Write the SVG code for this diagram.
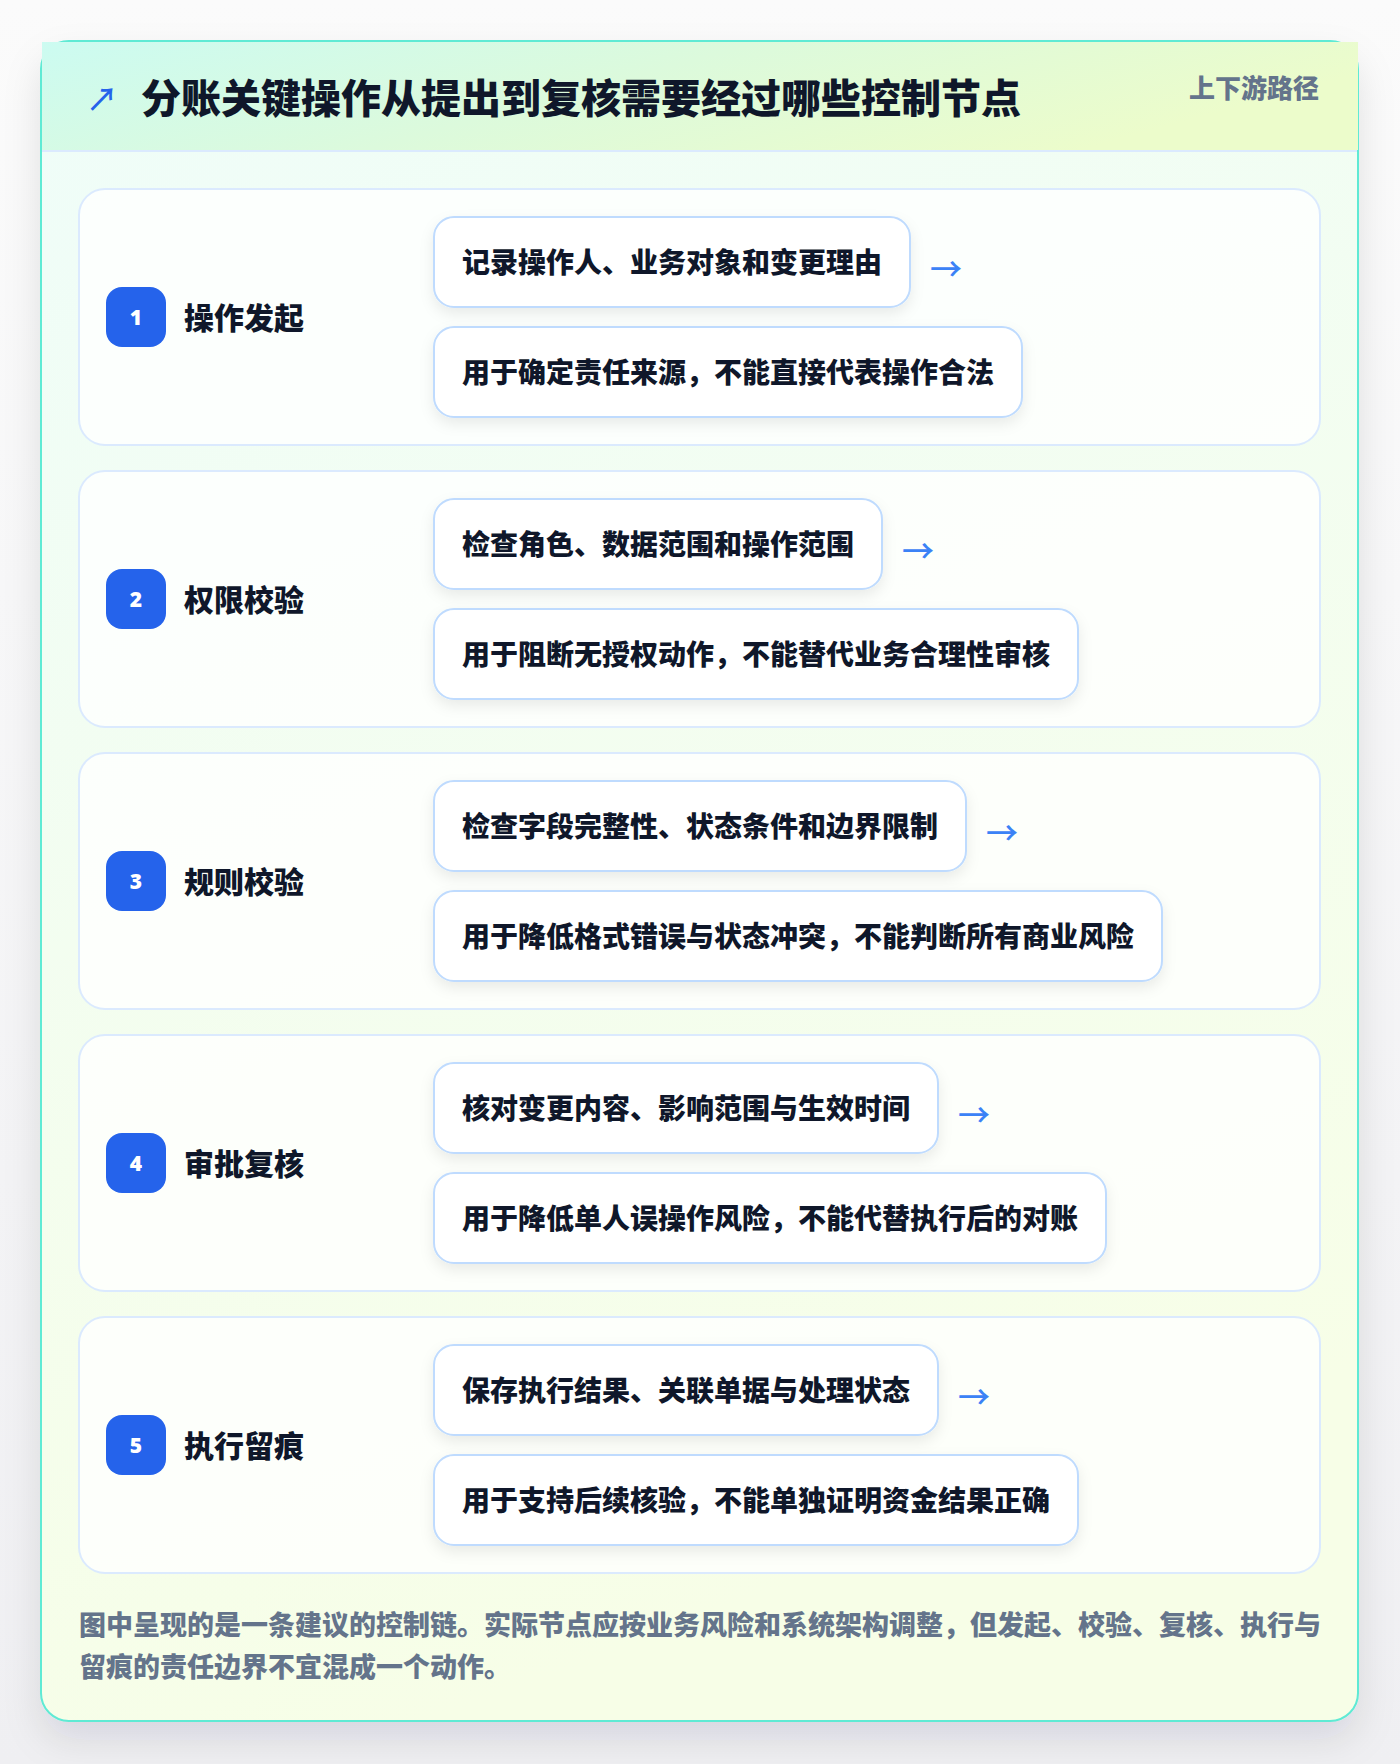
<svg xmlns="http://www.w3.org/2000/svg" width="1400" height="1764" viewBox="0 0 1400 1764">
  <defs>
    <linearGradient id="pageBg" x1="0" y1="0" x2="0" y2="1">
      <stop offset="0" stop-color="#fbfbfb"/>
      <stop offset="1" stop-color="#efeff2"/>
    </linearGradient>
    <linearGradient id="cardBg" x1="0" y1="0" x2="0.3" y2="1">
      <stop offset="0" stop-color="#effdf9"/>
      <stop offset="1" stop-color="#f7fee7"/>
    </linearGradient>
    <linearGradient id="headBg" x1="0" y1="0" x2="1" y2="0.3">
      <stop offset="0" stop-color="#ccfbf1"/>
      <stop offset="0.5" stop-color="#dcfadc"/>
      <stop offset="1" stop-color="#ecfccb"/>
    </linearGradient>
    <filter id="cardShadow" x="-10%" y="-10%" width="120%" height="125%">
      <feDropShadow dx="0" dy="18" stdDeviation="18" flood-color="#0f172a" flood-opacity="0.10"/>
    </filter>
    <filter id="boxShadow" x="-10%" y="-20%" width="120%" height="160%">
      <feDropShadow dx="0" dy="6" stdDeviation="7" flood-color="#0f172a" flood-opacity="0.08"/>
    </filter>
    <style>
      .cjk { font-family: "Noto Sans CJK SC", "Noto Sans", "DejaVu Sans", sans-serif; }
      .title { font-size: 40px; font-weight: 900; fill: #0f172a; }
      .tag { font-size: 26px; font-weight: 900; fill: #64748b; }
      .row { fill: #ffffff; fill-opacity: 0.78; stroke: #dbeafe; stroke-width: 2; }
      .badge { fill: #2563eb; }
      .num { font-family: "Noto Sans", "Liberation Sans", sans-serif; font-size: 21px; font-weight: 900; fill: #ffffff; }
      .label { font-size: 30px; font-weight: 900; fill: #0f172a; }
      .box { fill: #ffffff; stroke: #bfdbfe; stroke-width: 2; }
      .btxt { font-size: 28px; font-weight: 900; fill: #0f172a; }
      .arrow { font-family: "Noto Sans CJK SC", "DejaVu Sans", sans-serif; font-size: 32px; font-weight: 500; fill: #3b82f6; }
      .note { font-size: 27px; font-weight: 900; fill: #64748b; }
    </style>
  </defs>

  <rect x="0" y="0" width="1400" height="1764" fill="url(#pageBg)"/>

  <g id="card">
    <rect x="41" y="41" width="1317" height="1680" rx="28" fill="url(#cardBg)" stroke="#5eead4" stroke-width="2" filter="url(#cardShadow)"/>
    <rect x="42" y="42" width="1316" height="108" fill="url(#headBg)"/>
    <line x1="42" y1="151" x2="1357" y2="151" stroke="#dbeafe" stroke-width="2"/>
  </g>

  <g id="header">
    <text class="cjk" x="86" y="111" font-size="32" font-weight="500" fill="#2563eb">↗</text>
    <text class="cjk title" x="141" y="113">分账关键操作从提出到复核需要经过哪些控制节点</text>
    <text class="cjk tag" x="1319" y="98" text-anchor="end">上下游路径</text>
  </g>

  <g id="step-1">
    <rect class="row" x="79" y="189" width="1241" height="256" rx="26"/>
    <rect class="badge" x="106" y="287" width="60" height="60" rx="16"/>
    <text class="num" x="136" y="324.5" text-anchor="middle">1</text>
    <text class="cjk label" x="184" y="328.5">操作发起</text>
    <rect class="box" x="434" y="217" width="476" height="90" rx="20" filter="url(#boxShadow)"/>
    <text class="cjk btxt" x="462" y="272.5">记录操作人、业务对象和变更理由</text>
    <rect class="box" x="434" y="327" width="588" height="90" rx="20" filter="url(#boxShadow)"/>
    <text class="cjk btxt" x="462" y="382.5">用于确定责任来源，不能直接代表操作合法</text>
  </g>

  <g id="step-2">
    <rect class="row" x="79" y="471" width="1241" height="256" rx="26"/>
    <rect class="badge" x="106" y="569" width="60" height="60" rx="16"/>
    <text class="num" x="136" y="606.5" text-anchor="middle">2</text>
    <text class="cjk label" x="184" y="610.5">权限校验</text>
    <rect class="box" x="434" y="499" width="448" height="90" rx="20" filter="url(#boxShadow)"/>
    <text class="cjk btxt" x="462" y="554.5">检查角色、数据范围和操作范围</text>
    <rect class="box" x="434" y="609" width="644" height="90" rx="20" filter="url(#boxShadow)"/>
    <text class="cjk btxt" x="462" y="664.5">用于阻断无授权动作，不能替代业务合理性审核</text>
  </g>

  <g id="step-3">
    <rect class="row" x="79" y="753" width="1241" height="256" rx="26"/>
    <rect class="badge" x="106" y="851" width="60" height="60" rx="16"/>
    <text class="num" x="136" y="888.5" text-anchor="middle">3</text>
    <text class="cjk label" x="184" y="892.5">规则校验</text>
    <rect class="box" x="434" y="781" width="532" height="90" rx="20" filter="url(#boxShadow)"/>
    <text class="cjk btxt" x="462" y="836.5">检查字段完整性、状态条件和边界限制</text>
    <rect class="box" x="434" y="891" width="728" height="90" rx="20" filter="url(#boxShadow)"/>
    <text class="cjk btxt" x="462" y="946.5">用于降低格式错误与状态冲突，不能判断所有商业风险</text>
  </g>

  <g id="step-4">
    <rect class="row" x="79" y="1035" width="1241" height="256" rx="26"/>
    <rect class="badge" x="106" y="1133" width="60" height="60" rx="16"/>
    <text class="num" x="136" y="1170.5" text-anchor="middle">4</text>
    <text class="cjk label" x="184" y="1174.5">审批复核</text>
    <rect class="box" x="434" y="1063" width="504" height="90" rx="20" filter="url(#boxShadow)"/>
    <text class="cjk btxt" x="462" y="1118.5">核对变更内容、影响范围与生效时间</text>
    <rect class="box" x="434" y="1173" width="672" height="90" rx="20" filter="url(#boxShadow)"/>
    <text class="cjk btxt" x="462" y="1228.5">用于降低单人误操作风险，不能代替执行后的对账</text>
  </g>

  <g id="step-5">
    <rect class="row" x="79" y="1317" width="1241" height="256" rx="26"/>
    <rect class="badge" x="106" y="1415" width="60" height="60" rx="16"/>
    <text class="num" x="136" y="1452.5" text-anchor="middle">5</text>
    <text class="cjk label" x="184" y="1456.5">执行留痕</text>
    <rect class="box" x="434" y="1345" width="504" height="90" rx="20" filter="url(#boxShadow)"/>
    <text class="cjk btxt" x="462" y="1400.5">保存执行结果、关联单据与处理状态</text>
    <rect class="box" x="434" y="1455" width="644" height="90" rx="20" filter="url(#boxShadow)"/>
    <text class="cjk btxt" x="462" y="1510.5">用于支持后续核验，不能单独证明资金结果正确</text>
  </g>

  <g id="connectors">
    <text class="arrow" x="930" y="267" dominant-baseline="central">→</text>
    <text class="arrow" x="902" y="549" dominant-baseline="central">→</text>
    <text class="arrow" x="986" y="831" dominant-baseline="central">→</text>
    <text class="arrow" x="958" y="1113" dominant-baseline="central">→</text>
    <text class="arrow" x="958" y="1395" dominant-baseline="central">→</text>
  </g>

  <g id="note">
    <text class="cjk note" x="79" y="1635">图中呈现的是一条建议的控制链。实际节点应按业务风险和系统架构调整，但发起、校验、复核、执行与</text>
    <text class="cjk note" x="79" y="1677">留痕的责任边界不宜混成一个动作。</text>
  </g>
</svg>
